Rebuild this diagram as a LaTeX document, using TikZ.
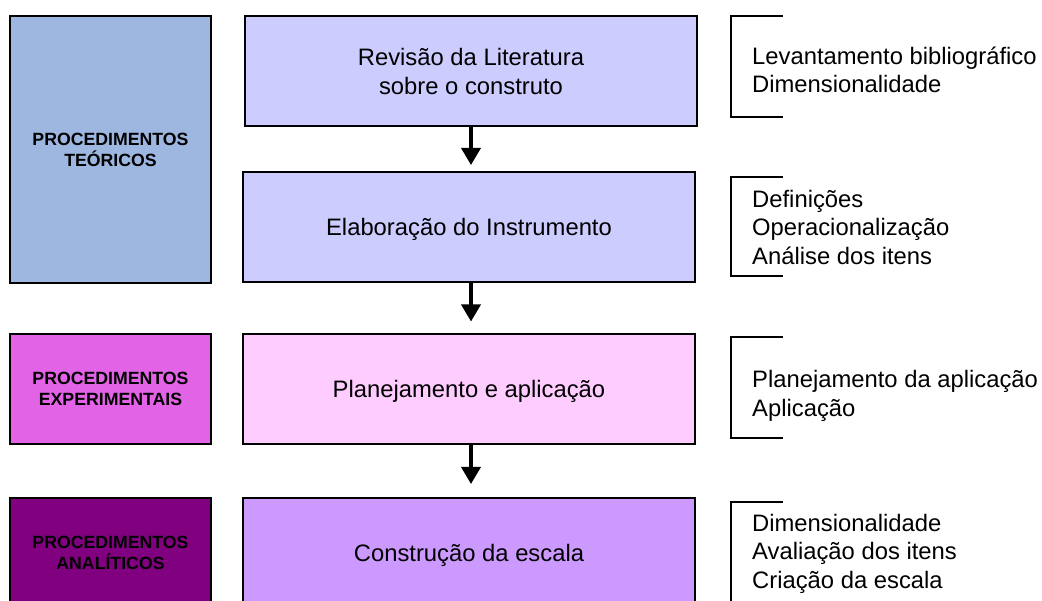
\documentclass[tikz,border=0pt]{standalone}
\usepackage{fontspec}
\setmainfont{Liberation Sans}
\usetikzlibrary{arrows.meta}
\definecolor{lteo}{RGB}{157,183,225}
\definecolor{lexp}{RGB}{227,99,230}
\definecolor{lana}{RGB}{128,0,128}
\definecolor{mteo}{RGB}{204,204,255}
\definecolor{mexp}{RGB}{255,204,255}
\definecolor{mana}{RGB}{204,153,255}
\tikzset{
  leftbox/.style={draw=black, line width=2pt, minimum width=201pt, inner sep=0pt, align=center,
    font=\fontsize{17.7}{21}\selectfont\bfseries},
  midbox/.style={draw=black, line width=2pt, minimum width=452pt, minimum height=110pt, inner sep=0pt,
    font=\fontsize{23.8}{29}\selectfont},
  oneline/.style={text height=17pt, text depth=0pt},
  listtext/.style={anchor=west, inner sep=0pt, align=left, font=\fontsize{23.8}{28.5}\selectfont},
  flowarrow/.style={line width=3.5pt, -{Triangle[length=17pt,width=19pt]}},
  bracket/.style={line width=2pt, line cap=butt}
}
\begin{document}
\begin{tikzpicture}[x=1pt,y=-1pt]
\useasboundingbox (0,0) rectangle (1042,601);
\clip (0,0) rectangle (1042,601);
\fill[white] (0,0) rectangle (1042,601);
% left boxes
\node[leftbox, fill=lteo, minimum height=267pt] (lt) at (110.5,149.5) {PROCEDIMENTOS\\TEÓRICOS};
\node[leftbox, fill=lexp, minimum height=110pt] (le) at (110.5,389) {PROCEDIMENTOS\\EXPERIMENTAIS};
\node[leftbox, fill=lana, minimum height=110pt] (la) at (110.5,553) {PROCEDIMENTOS\\ANALÍTICOS};
% middle boxes
\node[midbox, fill=mteo, align=center] (m1) at (471,71) {Revisão da Literatura\\sobre o construto};
\node[midbox, oneline, fill=mteo] (m2) at (469,227) {Elaboração do Instrumento};
\node[midbox, oneline, fill=mexp] (m3) at (469,389.5) {Planejamento e aplicação};
\node[midbox, oneline, fill=mana] (m4) at (469,553) {Construção da escala};
% arrows
\draw[flowarrow, shorten >=6pt] (m1.south -| 471,0) -- (m2.north -| 471,0);
\draw[flowarrow, shorten >=12pt] (m2.south -| 471,0) -- (m3.north -| 471,0);
\draw[flowarrow, shorten >=13pt] (m3.south -| 471,0) -- (m4.north -| 471,0);
% brackets
\draw[bracket] (783,16) -- (731,16) -- (731,117) -- (783,117);
\draw[bracket] (783,177) -- (731,177) -- (731,276) -- (783,276);
\draw[bracket] (783,337) -- (731,337) -- (731,438) -- (783,438);
\draw[bracket] (783,502) -- (731,502) -- (731,603) -- (783,603);
% list texts
\node[listtext] (t1) at (752,70) {Levantamento bibliográfico\\Dimensionalidade};
\node[listtext] (t2) at (752,227) {Definições\\Operacionalização\\Análise dos itens};
\node[listtext] (t3) at (752,396) {Planejamento da aplicação\\Aplicação};
\node[listtext] (t4) at (752,553.5) {Dimensionalidade\\Avaliação dos itens\\Criação da escala};
\end{tikzpicture}
\end{document}
